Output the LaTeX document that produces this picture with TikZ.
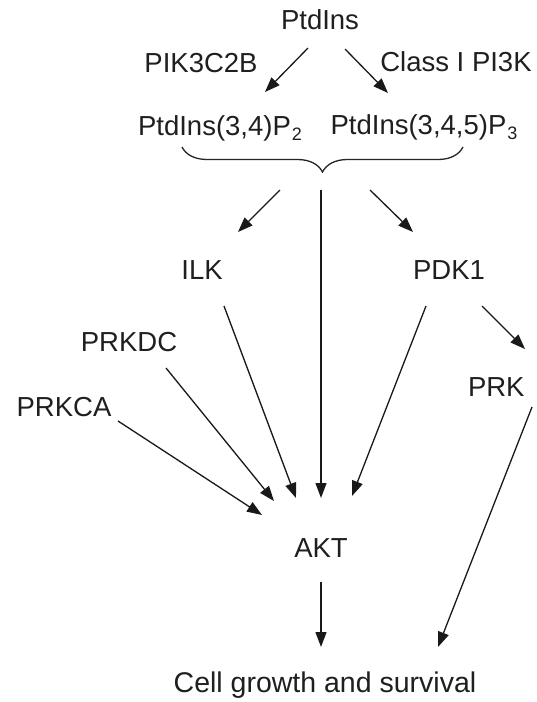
\documentclass[tikz,border=0pt]{standalone}
\usepackage{fontspec}
\setmainfont{Liberation Sans}
\usetikzlibrary{arrows.meta,calc,decorations.pathreplacing}
\newcommand{\subsc}[1]{\hspace{1pt}\raisebox{-5pt}{\fontsize{18}{18}\selectfont #1}}
\tikzset{
  lbl/.style={inner sep=0pt, outer sep=0pt, anchor=base, text=black!88,
    font=\fontsize{27.5}{33}\selectfont},
  arr/.style={line width=1.3pt, draw=black!90,
    -{Triangle[length=15pt,width=11pt]}},
  bracestyle/.style={line width=1.3pt, draw=black!85,
    decorate, decoration={brace, mirror, amplitude=25pt, aspect=0.5}}
}
\begin{document}
\begin{tikzpicture}[x=1pt,y=-1pt]
\useasboundingbox[fill=white] (0,0) rectangle (536,702);
% nodes (x = centre, y = baseline)
\node[lbl] (ptd) at (320,29) {PtdIns};
\node[lbl] (pik) at (201,72) {PIK3C2B};
\node[lbl] (cls) at (456,71) {Class I PI3K};
\node[lbl] (p2) at (220,135) {PtdIns(3,4)P\subsc{2}};
\node[lbl] (p3) at (424,134) {PtdIns(3,4,5)P\subsc{3}};
\node[lbl] (ilk) at (202,279) {ILK};
\node[lbl] (pdk) at (449,279) {PDK1};
\node[lbl] (prkdc) at (129,351) {PRKDC};
\node[lbl] (prkca) at (64,416) {PRKCA};
\node[lbl, anchor=base west] (prk) at (468,396) {PRK};
\node[lbl] (akt) at (321,557) {AKT};
\node[lbl, font=\fontsize{28.5}{33}\selectfont] (cell) at (325,692) {Cell growth and survival};
% brace
\coordinate (bl) at (182,147);
\coordinate (br) at (463,147);
\coordinate (btip) at (323,172);
\draw[bracestyle] (bl) -- (br);
% connectors
\draw[arr] ($(ptd.base)+(-12,19)$) -- ($(p2.base)+(45,-43)$);
\draw[arr] ($(ptd.base)+(25,20)$) -- ($(p3.base)+(-36,-41)$);
\draw[arr] ($(btip)+(-43,18)$) -- ($(ilk.base)+(36,-47)$);
\draw[arr] ($(btip)+(47,18)$) -- ($(pdk.base)+(-36,-47)$);
\draw[arr] ($(btip)+(-2,18)$) -- ($(akt.base)+(0,-59)$);
\draw[arr] ($(ilk.base)+(22,27)$) -- ($(akt.base)+(-25,-59)$);
\draw[arr] ($(prkdc.base)+(37,17)$) -- ($(akt.base)+(-47,-56)$);
\draw[arr] ($(prkca.base)+(54,5)$) -- ($(akt.base)+(-59,-42)$);
\draw[arr] ($(pdk.base)+(-23,27)$) -- ($(akt.base)+(31,-61)$);
\draw[arr] ($(pdk.base)+(33,27)$) -- ($(prk.base west)+(57,-47)$);
\draw[arr] ($(prk.base west)+(64,11)$) -- ($(cell.base)+(113,-45)$);
\draw[arr] ($(akt.base)+(0,25)$) -- ($(cell.base)+(-4,-45)$);
\end{tikzpicture}
\end{document}
